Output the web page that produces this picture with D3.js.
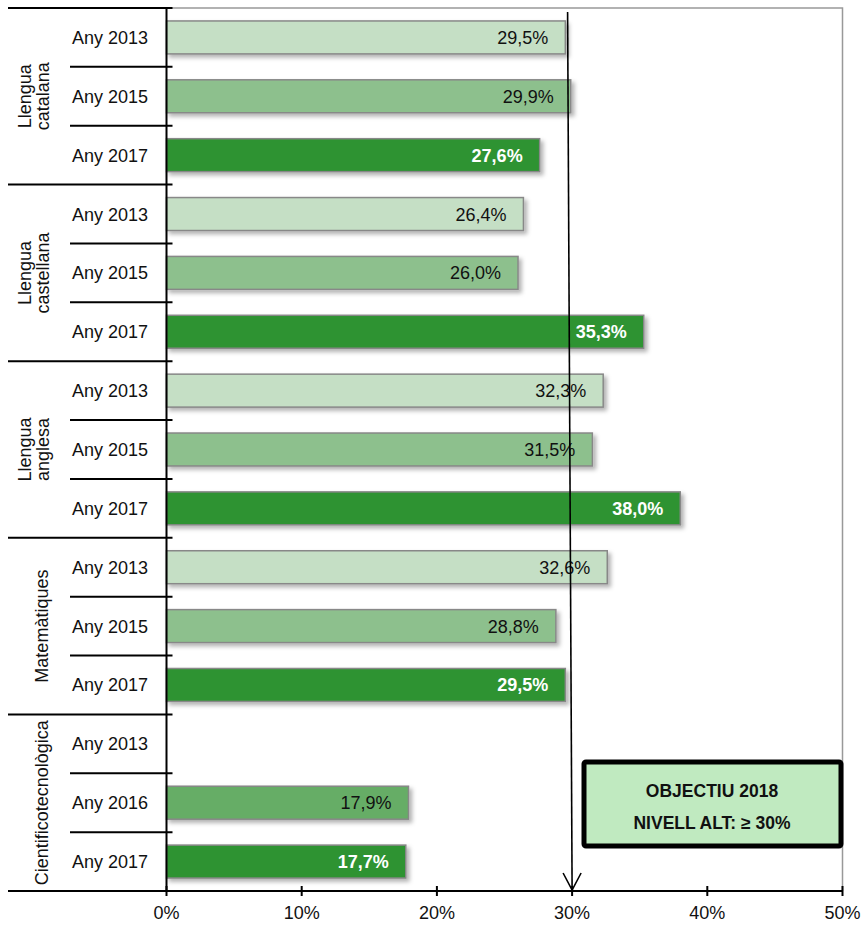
<!DOCTYPE html>
<html>
<head>
<meta charset="utf-8">
<script src="https://cdn.jsdelivr.net/npm/d3@7"></script>
<style>
  body { margin: 0; background: #fff; }
  text { font-family: "Liberation Sans", Arial, sans-serif; }
</style>
</head>
<body>
<script>
// data
const groups = ["Llengua catalana", "Llengua castellana", "Llengua anglesa", "Matemàtiques", "Cientificotecnològica"];
const groupLines = [["Llengua", "catalana"], ["Llengua", "castellana"], ["Llengua", "anglesa"], ["Matemàtiques"], ["Cientificotecnològica"]];
const years = [
  ["Any 2013", "Any 2015", "Any 2017"],
  ["Any 2013", "Any 2015", "Any 2017"],
  ["Any 2013", "Any 2015", "Any 2017"],
  ["Any 2013", "Any 2015", "Any 2017"],
  ["Any 2013", "Any 2016", "Any 2017"]
];
const values = [
  [29.5, 29.9, 27.6],
  [26.4, 26.0, 35.3],
  [32.3, 31.5, 38.0],
  [32.6, 28.8, 29.5],
  [null, 17.9, 17.7]
];
const xTicks = [0, 10, 20, 30, 40, 50];
const target = 30;

const colors = {"Any 2013": "#c5dfc5", "Any 2015": "#8dc08d", "Any 2016": "#66ad66", "Any 2017": "#2e9332"};

const W = 861, H = 925;
const pLeft = 166.5, pRight = 842.5, pTop = 8, pBottom = 891;
const fs = 18;

const rows = [];
groups.forEach((g, gi) => {
  years[gi].forEach((yr, yi) => {
    rows.push({key: gi + "-" + yi, group: g, gi: gi, year: yr, value: values[gi][yi], last: yi === 2});
  });
});

const x = d3.scaleLinear().domain([0, 50]).range([pLeft, pRight]);
const y = d3.scaleBand().domain(rows.map(d => d.key)).range([pTop, pBottom]).paddingInner(0.44).paddingOuter(0.22);
const step = y.step();

const svg = d3.select("body").append("svg")
    .attr("width", W)
    .attr("height", H);

const defs = svg.append("defs");
defs.append("filter")
    .attr("id", "shadow")
    .attr("x", "-10%").attr("y", "-30%").attr("width", "130%").attr("height", "180%")
  .append("feDropShadow")
    .attr("dx", 3).attr("dy", 3).attr("stdDeviation", 2.2)
    .attr("flood-color", "#000").attr("flood-opacity", 0.3);

// plot border (top + right)
svg.append("path")
    .attr("d", `M${pLeft},${pTop}H${pRight}V${pBottom}`)
    .attr("fill", "none")
    .attr("stroke", "#999")
    .attr("stroke-width", 1.5);

// bars
const barRows = rows.filter(d => d.value != null);
svg.append("g")
  .selectAll("rect")
  .data(barRows)
  .join("rect")
    .attr("x", x(0))
    .attr("y", d => y(d.key))
    .attr("width", d => x(d.value) - x(0))
    .attr("height", y.bandwidth())
    .attr("fill", d => colors[d.year])
    .attr("stroke", "#888")
    .attr("stroke-width", 1.5)
    .attr("filter", "url(#shadow)");

// value labels
svg.append("g")
  .selectAll("text")
  .data(barRows)
  .join("text")
    .attr("x", d => x(d.value) - 17)
    .attr("y", d => y(d.key) + y.bandwidth() / 2)
    .attr("dy", "0.36em")
    .attr("text-anchor", "end")
    .attr("font-size", fs)
    .attr("font-weight", d => d.year === "Any 2017" ? "bold" : "normal")
    .attr("fill", d => d.year === "Any 2017" ? "#fff" : "#111")
    .text(d => d.value.toFixed(1).replace(".", ",") + "%");

// category axis: row separators and group separators
const sep = svg.append("g").attr("stroke", "#000").attr("stroke-width", 2);
sep.append("line")
    .attr("x1", 8).attr("x2", pLeft + 6)
    .attr("y1", pTop).attr("y2", pTop);
rows.forEach((d, i) => {
  const yy = pTop + step * (i + 1);
  sep.append("line")
      .attr("x1", d.last ? 8 : 70)
      .attr("x2", pLeft + 6)
      .attr("y1", yy).attr("y2", yy);
});
sep.append("line")
    .attr("x1", pLeft).attr("x2", pLeft)
    .attr("y1", pTop).attr("y2", pBottom);

// year labels
svg.append("g")
  .selectAll("text")
  .data(rows)
  .join("text")
    .attr("x", 110)
    .attr("y", d => y(d.key) + y.bandwidth() / 2)
    .attr("dy", "0.36em")
    .attr("text-anchor", "middle")
    .attr("font-size", fs)
    .attr("fill", "#111")
    .text(d => d.year);

// group labels, rotated
groupLines.forEach((lines, gi) => {
  const cy = pTop + step * (gi * 3 + 1.5);
  const t = svg.append("text")
      .attr("transform", `translate(${lines.length > 1 ? 34 : 42},${cy}) rotate(-90)`)
      .attr("text-anchor", "middle")
      .attr("font-size", fs)
      .attr("fill", "#111");
  lines.forEach((l, li) => {
    t.append("tspan")
        .attr("x", 0)
        .attr("y", (li - (lines.length - 1) / 2) * 18)
        .attr("dy", "0.36em")
        .text(l);
  });
});

// x axis
const axis = svg.append("g");
axis.append("line")
    .attr("x1", 8).attr("x2", pRight)
    .attr("y1", pBottom).attr("y2", pBottom)
    .attr("stroke", "#000").attr("stroke-width", 2);
axis.selectAll(".tick")
  .data(xTicks)
  .join("line")
    .attr("class", "tick")
    .attr("x1", d => x(d)).attr("x2", d => x(d))
    .attr("y1", pBottom - 5).attr("y2", pBottom + 5)
    .attr("stroke", "#000").attr("stroke-width", 2);
axis.selectAll("text")
  .data(xTicks)
  .join("text")
    .attr("x", d => x(d))
    .attr("y", pBottom + 22)
    .attr("dy", "0.36em")
    .attr("text-anchor", "middle")
    .attr("font-size", fs)
    .attr("fill", "#111")
    .text(d => d + "%");

// target arrow
const ax = x(target);
svg.append("line")
    .attr("x1", ax - 4.5).attr("y1", pTop + 4)
    .attr("x2", ax).attr("y2", pBottom - 1)
    .attr("stroke", "#000").attr("stroke-width", 1.6);
svg.append("path")
    .attr("d", `M${ax - 9},${pBottom - 18}L${ax},${pBottom - 1}L${ax + 9},${pBottom - 18}`)
    .attr("fill", "none")
    .attr("stroke", "#000").attr("stroke-width", 1.6);

// target box
const box = svg.append("g");
box.append("rect")
    .attr("x", 584).attr("y", 762)
    .attr("width", 257).attr("height", 84)
    .attr("rx", 2)
    .attr("fill", "#c0eac0")
    .attr("stroke", "#000")
    .attr("stroke-width", 5);
box.append("text")
    .attr("x", 712).attr("y", 791)
    .attr("dy", "0.36em")
    .attr("text-anchor", "middle")
    .attr("font-size", 17.5)
    .attr("font-weight", "bold")
    .attr("fill", "#111")
    .text("OBJECTIU 2018");
box.append("text")
    .attr("x", 712).attr("y", 823)
    .attr("dy", "0.36em")
    .attr("text-anchor", "middle")
    .attr("font-size", 17.5)
    .attr("font-weight", "bold")
    .attr("fill", "#111")
    .text("NIVELL ALT: ≥ " + target + "%");
</script>
</body>
</html>
